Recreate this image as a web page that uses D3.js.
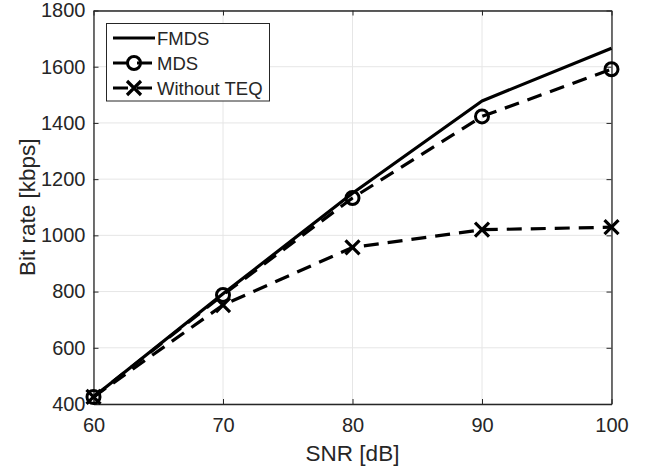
<!DOCTYPE html>
<html><head><meta charset="utf-8">
<script src="https://d3js.org/d3.v7.min.js"></script>
<style>body{margin:0;background:#fff}svg{display:block}text{font-family:"Liberation Sans",Arial,Helvetica,sans-serif;fill:#262626}</style>
</head><body><svg id="c" width="646" height="471"></svg>
<script>
const snr = [60, 70, 80, 90, 100];
const fmds = [425, 792, 1150, 1478, 1666];
const mds = [425, 788, 1133, 1423, 1591];
const noTeq = [425, 752, 957, 1020, 1029];
const xTicks = [60, 70, 80, 90, 100];
const yTicks = [400, 600, 800, 1000, 1200, 1400, 1600, 1800];
const seriesNames = ["FMDS", "MDS", "Without TEQ"];

const svg = d3.select("#c");
const L = 93.5, R = 611.5, T = 10.5, B = 404;
const x = d3.scaleLinear().domain([60, 100]).range([L, R]);
const y = d3.scaleLinear().domain([400, 1800]).range([B, T]);

// grid
const g = svg.append("g");
g.selectAll(".gx").data(xTicks).join("line").attr("x1", d => x(d)).attr("x2", d => x(d))
  .attr("y1", T).attr("y2", B).attr("stroke", "#e6e6e6").attr("stroke-width", 1);
g.selectAll(".gy").data(yTicks).join("line").attr("y1", d => y(d)).attr("y2", d => y(d))
  .attr("x1", L).attr("x2", R).attr("stroke", "#e6e6e6").attr("stroke-width", 1);

// axes
const fmt = d3.format("d");
const ax = svg.append("g").attr("transform", `translate(0,${B})`)
  .call(d3.axisBottom(x).tickValues(xTicks).tickFormat(fmt).tickSizeInner(-5).tickSizeOuter(0).tickPadding(14));
const ay = svg.append("g").attr("transform", `translate(${L},0)`)
  .call(d3.axisLeft(y).tickValues(yTicks).tickFormat(fmt).tickSizeInner(-5).tickSizeOuter(0).tickPadding(8));
const axT = svg.append("g").attr("transform", `translate(0,${T})`)
  .call(d3.axisTop(x).tickValues(xTicks).tickSizeInner(-5).tickSizeOuter(0).tickFormat(""));
const ayR = svg.append("g").attr("transform", `translate(${R},0)`)
  .call(d3.axisRight(y).tickValues(yTicks).tickSizeInner(-5).tickSizeOuter(0).tickFormat(""));
[ax, ay, axT, ayR].forEach(a => {
  a.select(".domain").attr("stroke", "#262626").attr("stroke-width", 1.3);
  a.selectAll(".tick line").attr("stroke", "#262626");
  a.selectAll(".tick text").attr("font-size", 20).attr("fill", "#262626")
   .attr("font-family", '"Liberation Sans",Arial,sans-serif');
});

// lines
const line = d3.line().x(d => x(d[0])).y(d => y(d[1]));
const dash = "15,9";
function drawSeries(vals, dashed) {
  svg.append("path").datum(snr.map((s, i) => [s, vals[i]])).attr("d", line)
    .attr("fill", "none").attr("stroke", "#000").attr("stroke-width", 3.2)
    .attr("stroke-dasharray", dashed ? dash : null).attr("stroke-linejoin", "round");
}
drawSeries(fmds, false);
drawSeries(mds, true);
drawSeries(noTeq, true);

function circ(sel, cx, cy) {
  sel.append("circle").attr("cx", cx).attr("cy", cy).attr("r", 6.5)
    .attr("fill", "none").attr("stroke", "#000").attr("stroke-width", 3);
}
function cross(sel, cx, cy) {
  const s = 7;
  sel.append("path").attr("d", `M${cx - s},${cy - s}L${cx + s},${cy + s}M${cx - s},${cy + s}L${cx + s},${cy - s}`)
    .attr("stroke", "#000").attr("stroke-width", 3.2).attr("fill", "none");
}
snr.forEach((s, i) => circ(svg, x(s), y(mds[i])));
snr.forEach((s, i) => cross(svg, x(s), y(noTeq[i])));

// labels
svg.append("text").attr("x", (L + R) / 2).attr("y", 461).attr("text-anchor", "middle")
  .attr("font-size", 22.5).text("SNR [dB]");
svg.append("text").attr("transform", `translate(35,${(T + B) / 2}) rotate(-90)`)
  .attr("text-anchor", "middle").attr("font-size", 22.5).text("Bit rate [kbps]");

// legend
const lg = svg.append("g");
lg.append("rect").attr("x", 106.5).attr("y", 23.5).attr("width", 163).attr("height", 77.5)
  .attr("fill", "#fff").attr("stroke", "#262626").attr("stroke-width", 1);
const rowsY = [38, 63, 88];
seriesNames.forEach((n, i) => {
  const yy = rowsY[i];
  lg.append("line").attr("x1", 113).attr("x2", 155).attr("y1", yy).attr("y2", yy)
    .attr("stroke", "#000").attr("stroke-width", 3.2)
    .attr("stroke-dasharray", i === 0 ? null : "15,9");
  if (i === 1) circ(lg, 134, yy);
  if (i === 2) cross(lg, 134, yy);
  lg.append("text").attr("x", 157).attr("y", yy + 7).attr("font-size", 18.5).text(n);
});
</script></body></html>
